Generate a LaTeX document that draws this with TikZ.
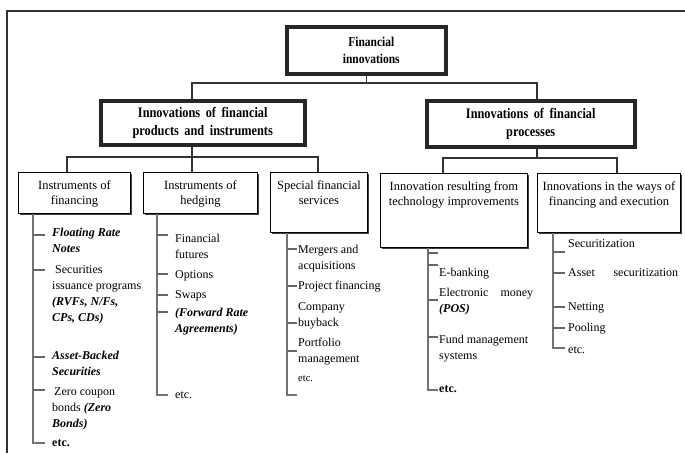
\documentclass[tikz,border=0pt]{standalone}
\usepackage{fontspec}
\setmainfont{Liberation Serif}
\newfontfamily\hdfont{Liberation Serif}[FakeStretch=0.85,WordSpace=1.8]
\usetikzlibrary{shadows}
\newcommand\bi[1]{\textbf{\textit{#1}}}
\begin{document}
\begin{tikzpicture}[x=1pt,y=-1pt,
  frame/.style={draw=black!80, line width=1.2pt},
  bigbox/.style={draw=black!85, line width=3.5pt, fill=white, anchor=north west, inner sep=0pt,
    font=\hdfont\bfseries\fontsize{14.5}{18}\selectfont, align=center},
  midbox/.style={draw=black, line width=0.9pt, fill=white, anchor=north west, inner sep=0pt,
    general shadow={fill=black!75, shadow xshift=1.8pt, shadow yshift=-1.8pt}},
  title/.style={font=\fontsize{12.5}{15}\selectfont, align=center, inner sep=0pt, anchor=north},
  item/.style={font=\fontsize{12}{16}\selectfont, align=left, inner sep=0pt, anchor=north west},
  conn/.style={draw=black!80, line width=1.3pt},
  branch/.style={draw=black!55, line width=2.2pt},
  tick/.style={draw=black!60, line width=1.2pt},
]
\useasboundingbox[fill=white] (0,0) rectangle (685,453);
\draw[frame] (685,11) -- (7,11) -- (7,453);

% top levels
\node[bigbox, minimum width=159pt, minimum height=47pt, font=\hdfont\bfseries\fontsize{13.5}{17}\selectfont] (top) at (285,25) {\hspace{10pt}Financial\\\hspace{10pt}innovations};
\node[bigbox, minimum width=204pt, minimum height=44pt] (l2a) at (99,99) {Innovations of financial\\products and instruments};
\node[bigbox, minimum width=208pt, minimum height=46pt] (l2b) at (425,99) {Innovations of financial\\processes};

% third level boxes
\node[midbox, minimum width=112pt, minimum height=41pt] (finB) at (18,172) {};
\node[midbox, minimum width=114pt, minimum height=41pt] (hedB) at (143,172) {};
\node[midbox, minimum width=97pt, minimum height=60pt] (specB) at (270,172) {};
\node[midbox, minimum width=147pt, minimum height=74pt] (techB) at (380,173) {};
\node[midbox, minimum width=143pt, minimum height=59pt] (waysB) at (537,173) {};

\node[title] (finT) at ([yshift=-8pt]finB.north) {Instruments of\\financing};
\node[title] (hedT) at ([yshift=-8pt]hedB.north) {Instruments of\\hedging};
\node[title] (specT) at ([yshift=-8pt]specB.north) {Special financial\\services};
\node[title] (techT) at ([yshift=-8pt]techB.north) {Innovation resulting from\\technology improvements};
\node[title] (waysT) at ([yshift=-8pt]waysB.north) {Innovations in the ways of\\financing and execution};

% connectors
\coordinate (hA) at (192,83);
\coordinate (hB) at (537,83);
\draw[conn] (top.south) -- (top.south |- hA);
\draw[conn] (l2a.north -| hA) -- (hA) -- (hB) -- (l2b.north -| hB);
\coordinate (kA) at (67,157);
\coordinate (kB) at (318,157);
\coordinate (kC) at (192,157);
\draw[conn] (finB.north -| kA) -- (kA) -- (kB) -- (specB.north -| kB);
\draw[conn] (l2a.south -| kC) -- (hedB.north -| kC);
\coordinate (mA) at (443,158);
\coordinate (mB) at (617,158);
\coordinate (mC) at (537,158);
\draw[conn] (techB.north -| mA) -- (mA) -- (mB) -- (waysB.north -| mB);
\draw[conn] (l2b.south -| mC) -- (mC);

% branches
\coordinate (bf) at (33,443);
\coordinate (bh) at (157,395);
\coordinate (bs) at (287,395);
\coordinate (bt) at (428,390);
\coordinate (bw) at (553,348);
\draw[branch] (finB.south -| bf) -- (bf) -- ++(12,0);
\draw[branch] (hedB.south -| bh) -- (bh) -- ++(11,0);
\draw[branch] (specB.south -| bs) -- (bs) -- ++(10,0);
\draw[branch] (techB.south -| bt) -- (bt) -- ++(10,0);
\draw[branch] (waysB.south -| bw) -- (bw) -- ++(12,0);
\foreach \y in {235,270,357,390} \draw[tick] (33,\y) -- ++(12,0);
\foreach \y in {235,274,295,312} \draw[tick] (157,\y) -- ++(11,0);
\foreach \y in {249,286,323,351} \draw[tick] (287,\y) -- ++(10,0);
\foreach \y in {253,265,300,337} \draw[tick] (428,\y) -- ++(10,0);
\foreach \y in {252,273,307,328} \draw[tick] (553,\y) -- ++(12,0);

% financing items
\node[item] (f1) at (52,225) {\strut\bi{Floating Rate}\\\bi{Notes}};
\node[item] (f2) at (52,262) {\strut\hspace{3pt}Securities\\issuance programs\\\bi{(RVFs, N/Fs,}\\\bi{CPs, CDs)}};
\node[item] (f3) at (52,348) {\strut\bi{Asset-Backed}\\\bi{Securities}};
\node[item] (f4) at (52,384) {\strut\hspace{2pt}Zero coupon\\bonds \bi{(Zero}\\\bi{Bonds)}};
\node[item] (f5) at (52,435) {\strut\textbf{etc.}};

% hedging items
\node[item] (h1) at (175,231) {\strut Financial\\futures};
\node[item] (h2) at (175,267) {\strut Options};
\node[item] (h3) at (175,287) {\strut Swaps};
\node[item] (h4) at (175,305) {\strut\bi{(Forward Rate}\\\bi{Agreements)}};
\node[item] (h5) at (175,387) {\strut etc.};

% special items
\node[item] (s1) at (298,242) {\strut Mergers and\\acquisitions};
\node[item] (s2) at (298,278) {\strut Project financing};
\node[item] (s3) at (298,299) {\strut Company\\buyback};
\node[item] (s4) at (298,335) {\strut Portfolio\\management};
\node[item] (s5) at (298,370) {\strut{\fontsize{10.5}{12}\selectfont etc.}};

% technology items
\node[item] (t1) at (439,265) {\strut E-banking};
\node[item] (t2) at (439,285) {\strut\makebox[94pt][s]{Electronic money}\\\bi{(POS)}};
\node[item] (t3) at (439,332) {\strut Fund management\\systems};
\node[item] (t4) at (439,381) {\strut\textbf{etc.}};

% ways items
\node[item] (w1) at (568,236) {\strut Securitization};
\node[item] (w2) at (568,265) {\strut\makebox[110pt][s]{Asset securitization}};
\node[item] (w3) at (568,299) {\strut Netting};
\node[item] (w4) at (568,320) {\strut Pooling};
\node[item] (w5) at (568,342) {\strut etc.};
\end{tikzpicture}
\end{document}
